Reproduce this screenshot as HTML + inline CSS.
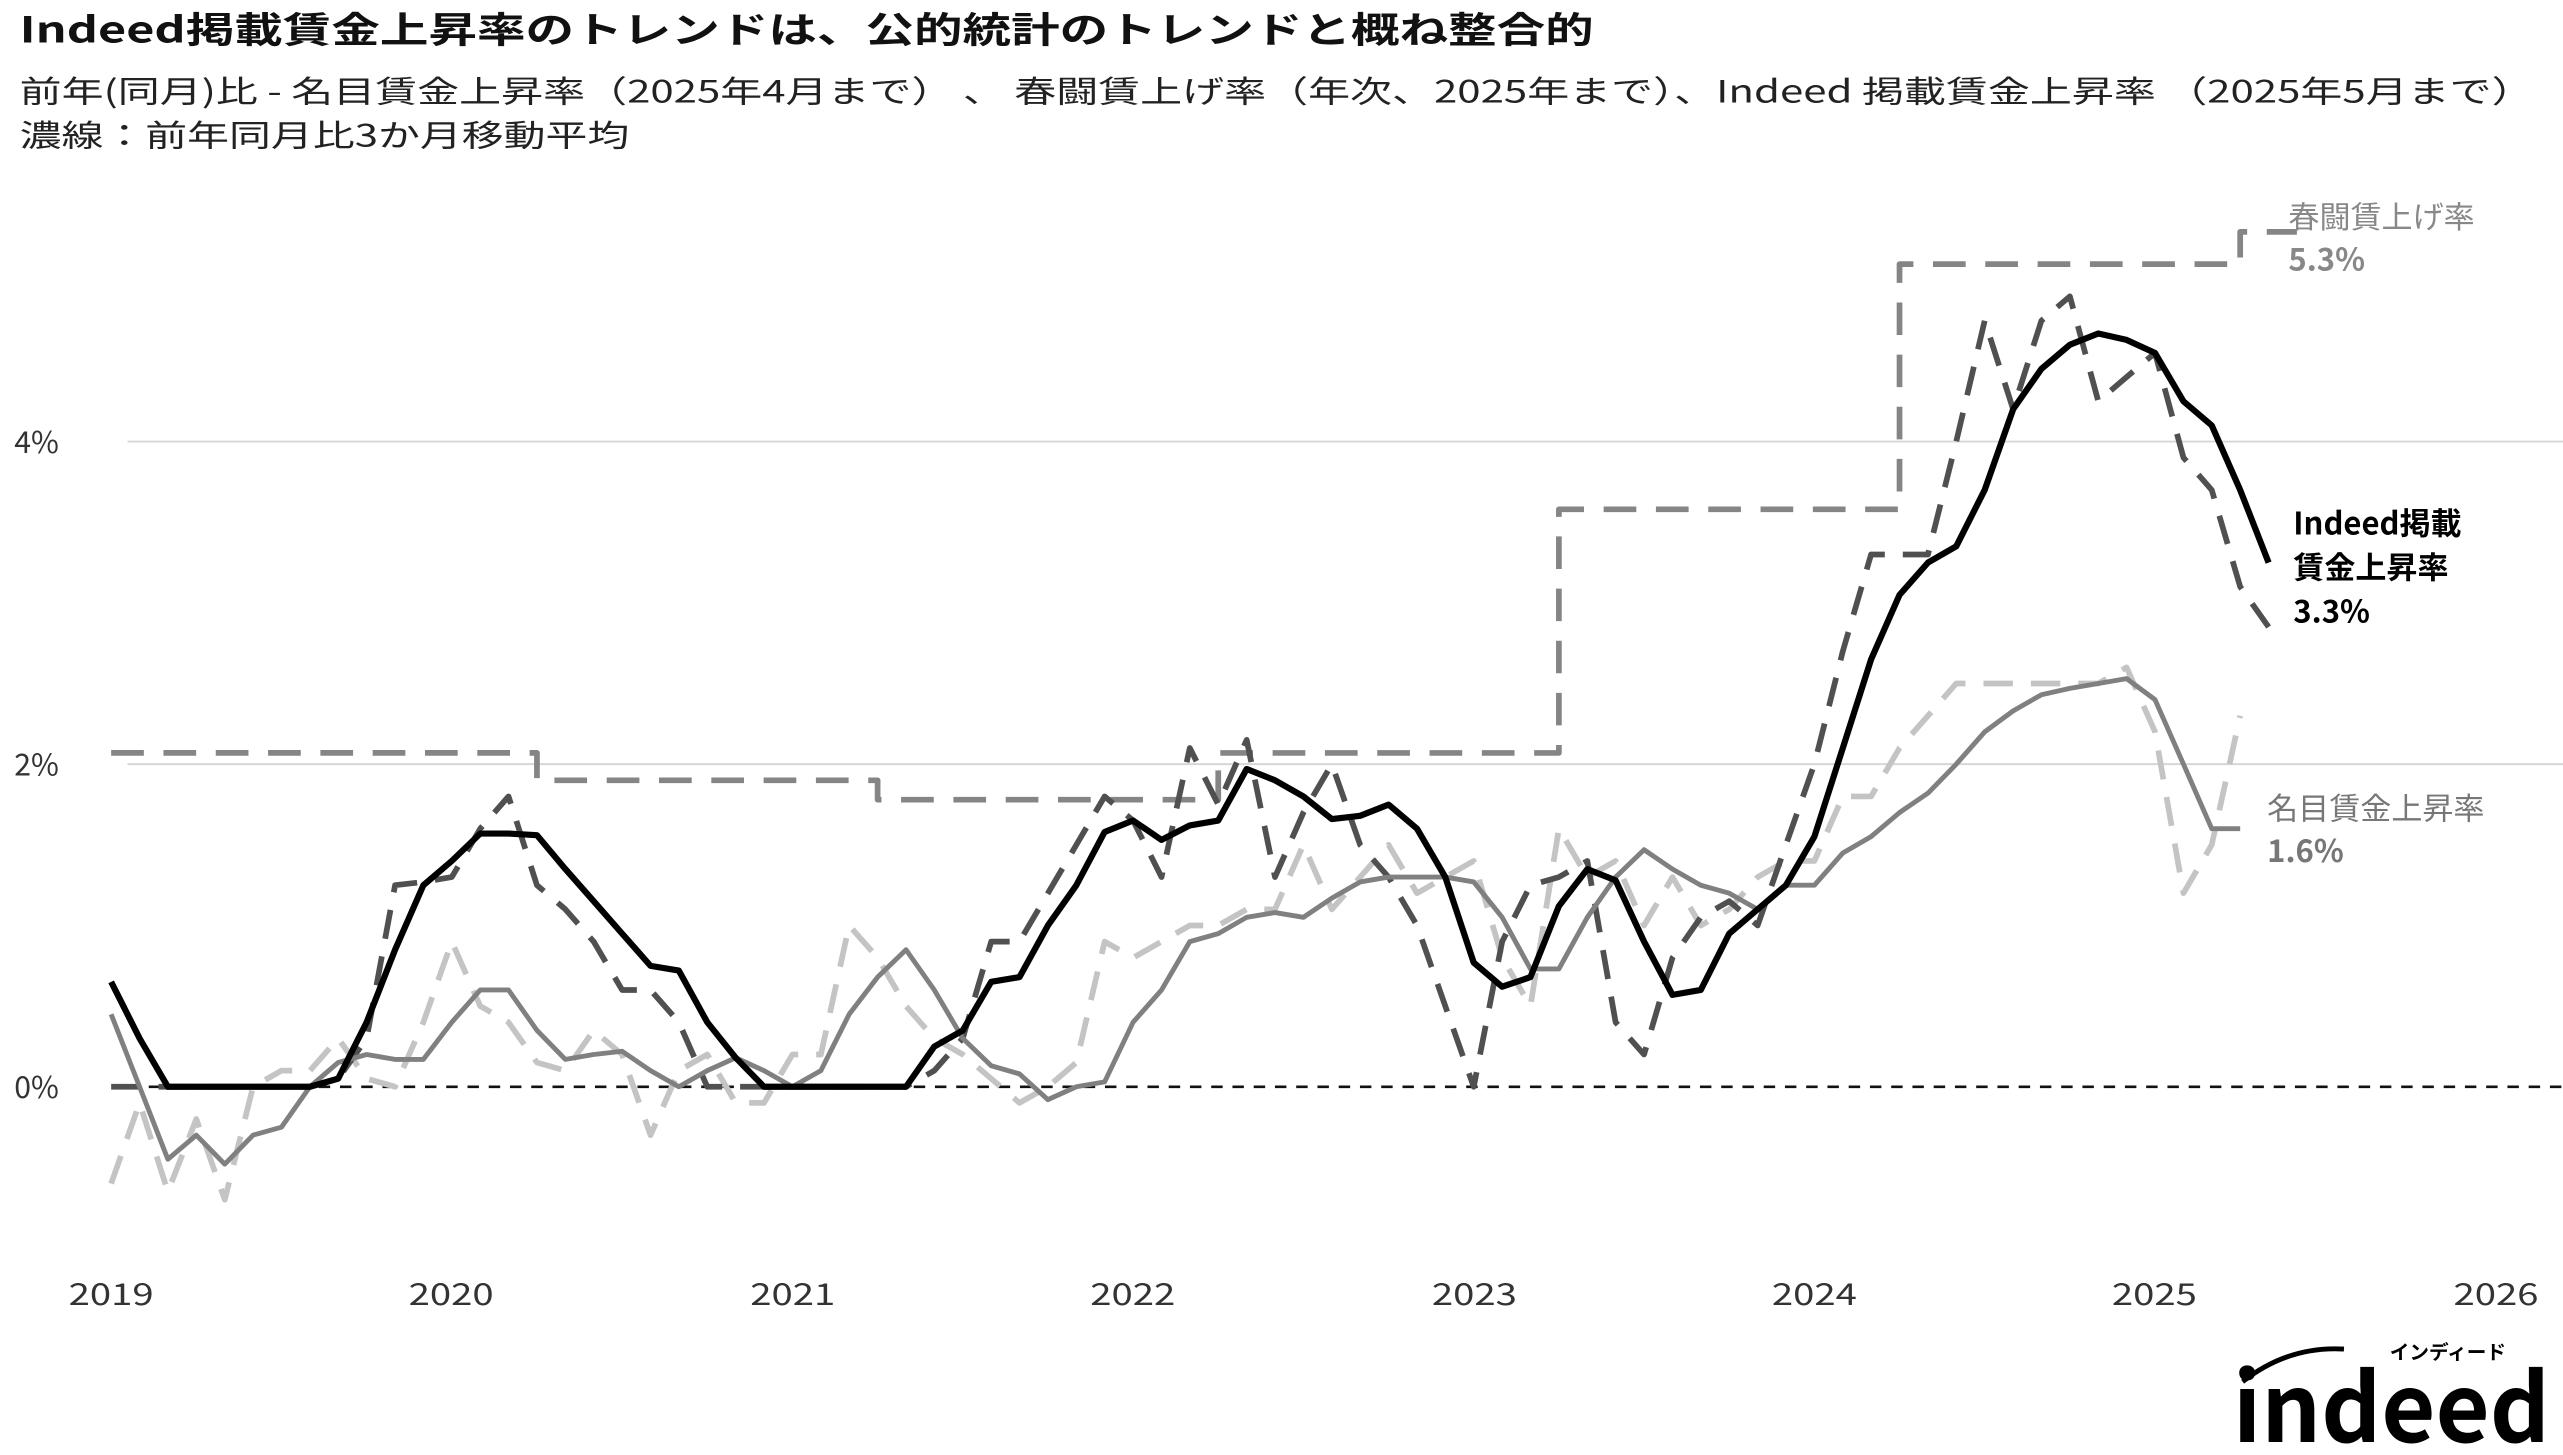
<!DOCTYPE html>
<html><head><meta charset="utf-8">
<style>
html,body{margin:0;padding:0;background:#fff;}
svg{display:block;}
text{font-family:"Noto Sans CJK JP","Liberation Sans",sans-serif;}
</style></head>
<body>
<svg id="c" width="2563" height="1455" viewBox="0 0 1568 893" preserveAspectRatio="none" xmlns="http://www.w3.org/2000/svg">
<text x="12" y="26" font-size="22" font-weight="bold" fill="#111" textLength="963" lengthAdjust="spacingAndGlyphs">Indeed掲載賃金上昇率のトレンドは、公的統計のトレンドと概ね整合的</text>
<text x="12" y="63" font-size="19" fill="#222" textLength="1538" lengthAdjust="spacingAndGlyphs">前年(同月)比 - 名目賃金上昇率（2025年4月まで） 、 春闘賃上げ率（年次、2025年まで）、Indeed 掲載賃金上昇率 （2025年5月まで）</text>
<text x="12" y="90" font-size="19" fill="#222" textLength="373" lengthAdjust="spacingAndGlyphs">濃線：前年同月比3か月移動平均</text>
<line x1="78" y1="271" x2="1568" y2="271" stroke="#d6d6d6" stroke-width="1.2"/>
<line x1="78" y1="469" x2="1568" y2="469" stroke="#d6d6d6" stroke-width="1.2"/>
<line x1="78" y1="667" x2="1568" y2="667" stroke="#111" stroke-width="1.6" stroke-dasharray="7 6"/>
<g font-size="18.5" fill="#333" text-anchor="end">
<text x="36" y="278">4%</text><text x="36" y="476">2%</text><text x="36" y="674">0%</text>
</g>
<g font-size="18.5" fill="#333" text-anchor="middle">
<text x="68" y="801" textLength="52" lengthAdjust="spacingAndGlyphs">2019</text><text x="276" y="801" textLength="52" lengthAdjust="spacingAndGlyphs">2020</text><text x="485" y="801" textLength="52" lengthAdjust="spacingAndGlyphs">2021</text><text x="693" y="801" textLength="52" lengthAdjust="spacingAndGlyphs">2022</text><text x="902" y="801" textLength="52" lengthAdjust="spacingAndGlyphs">2023</text><text x="1110" y="801" textLength="52" lengthAdjust="spacingAndGlyphs">2024</text><text x="1318" y="801" textLength="52" lengthAdjust="spacingAndGlyphs">2025</text><text x="1527" y="801" textLength="52" lengthAdjust="spacingAndGlyphs">2026</text>
</g>
<g id="series"></g>
<g font-size="19">
<text x="1400" y="140" fill="#888">春闘賃上げ率</text>
<text x="1400" y="166" fill="#888" font-weight="bold">5.3%</text>
<text x="1403" y="328" fill="#000" font-weight="bold">Indeed掲載</text>
<text x="1403" y="355" fill="#000" font-weight="bold">賃金上昇率</text>
<text x="1403" y="382" fill="#000" font-weight="bold">3.3%</text>
<text x="1387" y="503" fill="#777">名目賃金上昇率</text>
<text x="1387" y="529" fill="#777" font-weight="bold">1.6%</text>
</g>
<path d="M1372 848 Q1400 826 1434 828" fill="none" stroke="#000" stroke-width="3"/>
<text x="1462" y="834" font-size="12" font-weight="bold" fill="#000">インディード</text>
<text x="1366" y="885" font-size="58" font-weight="bold" fill="#000" font-family="Liberation Sans, sans-serif" textLength="194" lengthAdjust="spacingAndGlyphs">indeed</text>
</svg>
<script>
var X0=68,M=208.4/12;function Y(v){return 667-99*v;}
function path(arr,start){var d="";for(var i=0;i<arr.length;i++){d+=(i?"L":"M")+(X0+(start+i)*M).toFixed(1)+" "+Y(arr[i]).toFixed(1);}return d;}
var black=[0.65,0.3,0,0,0,0,0,0,0.05,0.4,0.85,1.25,1.4,1.57,1.57,1.56,1.35,1.15,0.95,0.75,0.72,0.4,0.18,0,0,0,0,0,0,0.25,0.35,0.65,0.68,1.0,1.25,1.58,1.65,1.53,1.62,1.65,1.97,1.9,1.8,1.66,1.68,1.75,1.6,1.3,0.77,0.62,0.68,1.12,1.35,1.28,0.9,0.57,0.6,0.95,1.1,1.25,1.55,2.1,2.65,3.05,3.25,3.35,3.7,4.2,4.45,4.6,4.67,4.63,4.55,4.25,4.1,3.7,3.25];
var idm=[0,0,0,0,0,0,0,0,0.05,0.3,1.25,1.27,1.3,1.6,1.8,1.25,1.1,0.9,0.6,0.6,0.4,0,0,0,0,0,0,0,0,0.1,0.3,0.9,0.9,1.2,1.5,1.8,1.65,1.3,2.1,1.75,2.15,1.3,1.7,2.0,1.5,1.3,1.0,0.5,0,0.9,1.25,1.3,1.4,0.4,0.2,0.8,1.05,1.15,1.0,1.5,2.0,2.7,3.3,3.3,3.3,4.0,4.75,4.2,4.75,4.9,4.25,4.4,4.55,3.9,3.7,3.1,2.85];
var nom=[0.45,0,-0.45,-0.3,-0.48,-0.3,-0.25,0,0.15,0.2,0.17,0.17,0.4,0.6,0.6,0.35,0.17,0.2,0.22,0.1,0,0.1,0.18,0.1,0,0.1,0.45,0.68,0.85,0.6,0.3,0.13,0.08,-0.08,0,0.03,0.4,0.6,0.9,0.95,1.05,1.08,1.05,1.17,1.27,1.3,1.3,1.3,1.27,1.05,0.73,0.73,1.05,1.3,1.47,1.35,1.25,1.2,1.1,1.25,1.25,1.45,1.55,1.7,1.82,2.0,2.2,2.33,2.43,2.47,2.5,2.53,2.4,2.0,1.6,1.6];
var nm=[-0.6,-0.1,-0.65,-0.2,-0.7,0,0.1,0.1,0.3,0.05,0,0.4,0.9,0.5,0.4,0.15,0.1,0.35,0.2,-0.3,0.1,0.2,-0.1,-0.1,0.2,0.2,1.0,0.8,0.5,0.3,0.2,0.05,-0.1,0,0.15,0.9,0.8,0.9,1.0,1.0,1.1,1.1,1.5,1.1,1.3,1.5,1.2,1.3,1.4,0.8,0.5,1.6,1.3,1.4,1.0,1.3,1.0,1.1,1.3,1.4,1.4,1.8,1.8,2.1,2.3,2.5,2.5,2.5,2.5,2.5,2.5,2.6,2.2,1.2,1.5,2.3];
var st=[[0,2.07],[15,1.9],[27,1.78],[39,2.07],[51,3.58],[63,5.1],[75,5.3],[77,5.3]];
var sd="";for(var i=0;i<st.length;i++){var x=X0+st[i][0]*M;if(i==0)sd="M"+x+" "+Y(st[i][1]);else sd+="H"+x.toFixed(1)+"V"+Y(st[i][1]).toFixed(1);}
var g=document.getElementById("series");
function add(d,c,w,da){var p=document.createElementNS("http://www.w3.org/2000/svg","path");p.setAttribute("d",d);p.setAttribute("fill","none");p.setAttribute("stroke",c);p.setAttribute("stroke-width",w);p.setAttribute("stroke-linejoin","round");if(da)p.setAttribute("stroke-dasharray",da);g.appendChild(p);}
add(sd,"#858585",3.5,"20 12");
add(path(nm,0),"#c4c4c4",3.5,"18 11");
add(path(idm,0),"#505050",3.5,"18 11");
add(path(nom,0),"#808080",3);
add(path(black,0),"#000",3.8);
</script>
</body></html>
